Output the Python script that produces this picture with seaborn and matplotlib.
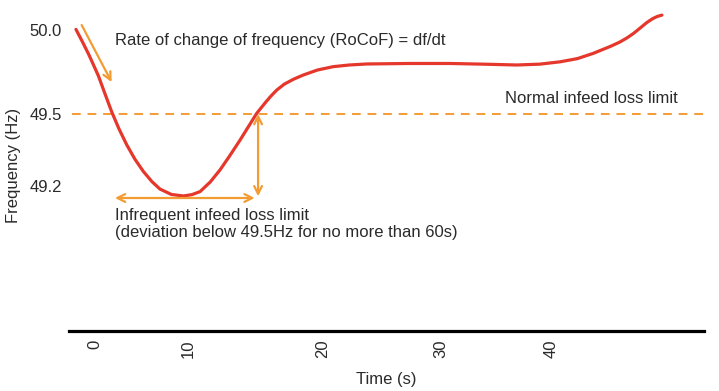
import matplotlib
matplotlib.use("Agg")
import matplotlib.pyplot as plt
import seaborn as sns

# frequency trace
time_s = [-1.67, -1.1, -0.55, -0.15, 0.3, 0.85, 1.46, 2.1, 2.78, 3.5, 4.24,
          5.0, 5.7, 6.7, 7.75, 8.5, 9.21, 10.1, 10.96, 11.8, 12.72, 13.5,
          14.18, 14.9, 15.4, 15.94, 16.6, 17.4, 18.25, 19.5, 20.88, 22.3,
          23.83, 27.5, 31.14, 34.0, 36.99, 39.0, 40.79, 42.3, 43.68, 45.2,
          46.0, 46.64, 47.2, 47.8, 48.39, 48.9, 49.3, 49.71]
freq_hz = [50.004, 49.93, 49.855, 49.795, 49.727, 49.625, 49.514, 49.412,
           49.317, 49.231, 49.158, 49.097, 49.053, 49.021, 49.012, 49.02,
           49.038, 49.095, 49.167, 49.25, 49.345, 49.43, 49.504, 49.565,
           49.605, 49.643, 49.678, 49.707, 49.732, 49.762, 49.782, 49.792,
           49.798, 49.801, 49.801, 49.797, 49.792, 49.797, 49.811, 49.83,
           49.861, 49.903, 49.928, 49.953, 49.979, 50.012, 50.045, 50.068,
           50.081, 50.089]

normal_limit = 49.5
ytick_vals = [50.0, 49.5, 49.07]
ytick_labels = ["50.0", "49.5", "49.2"]
xtick_vals = [0, 8.2, 20, 30.3, 40]
xtick_labels = ["0", "10", "20", "30", "40"]

RED = "#E5372B"
ORANGE = "#F39C34"
TEXT = "#2a2a2a"
FS = 12

sns.set_theme(style="white")
plt.rcParams["font.family"] = ["Liberation Sans", "DejaVu Sans"]

fig = plt.figure(figsize=(7.19, 3.91), dpi=100)
ax = fig.add_axes([69 / 719, 60 / 391, 635 / 719, 331 / 391])

ax.axhline(normal_limit, xmin=0.005, xmax=1.0, color=ORANGE, lw=1.4,
           dashes=(4.5, 3.5), zorder=1)
sns.lineplot(x=time_s, y=freq_hz, ax=ax, color=RED, lw=2.3, sort=False,
             estimator=None, zorder=3)

arrow = dict(arrowstyle="->", color=ORANGE, lw=1.6, mutation_scale=14,
             shrinkA=0, shrinkB=0)
darrow = dict(arrowstyle="<->", color=ORANGE, lw=1.6, mutation_scale=14,
              shrinkA=0, shrinkB=0)
ax.annotate("", xy=(1.46, 49.69), xytext=(-1.17, 50.03), arrowprops=arrow)
ax.annotate("", xy=(14.0, 49.0), xytext=(1.75, 49.0), arrowprops=darrow)
ax.annotate("", xy=(14.3, 49.5), xytext=(14.3, 49.01), arrowprops=darrow)

txt = dict(color=TEXT, fontsize=FS)
ax.text(1.75, 49.94, "Rate of change of frequency (RoCoF) = df/dt",
        va="center", ha="left", **txt)
ax.text(35.96, 49.595, "Normal infeed loss limit", va="center", ha="left", **txt)
ax.text(1.75, 48.94, "Infrequent infeed loss limit\n"
        "(deviation below 49.5Hz for no more than 60s)",
        va="top", ha="left", linespacing=1.2, **txt)

ax.set_xlim(-2.28, 53.4)
ax.set_ylim(48.208, 50.179)
ax.set_xticks(xtick_vals)
ax.set_xticklabels(xtick_labels, rotation=90, fontsize=FS, color=TEXT)
ax.set_yticks(ytick_vals)
ax.set_yticklabels(ytick_labels, fontsize=FS, color=TEXT)
ax.tick_params(axis="x", length=0, pad=6)
ax.tick_params(axis="y", length=0, pad=5)
ax.set_xlabel("Time (s)", fontsize=FS, color=TEXT, labelpad=10)
ax.set_ylabel("Frequency (Hz)", fontsize=FS, color=TEXT, labelpad=6)

for side in ["top", "right", "left"]:
    ax.spines[side].set_visible(False)
ax.spines["bottom"].set_color("black")
ax.spines["bottom"].set_linewidth(2.3)

fig.savefig("out.png", dpi=100)
